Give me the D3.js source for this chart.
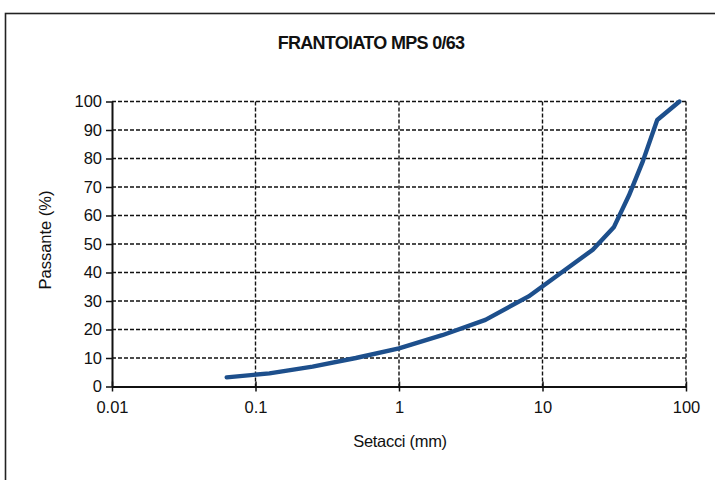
<!DOCTYPE html>
<html><head><meta charset="utf-8">
<script src="https://cdn.jsdelivr.net/npm/d3@7"></script>
<style>
html,body{margin:0;padding:0;background:#fff;}
svg{display:block;font-family:"Liberation Sans",Arial,sans-serif;}
</style></head>
<body>
<svg id="chart" width="715" height="480"></svg>
<script>
const title = "FRANTOIATO MPS 0/63";
const xLabel = "Setacci (mm)";
const yLabel = "Passante (%)";
const sieves = [0.063, 0.125, 0.25, 0.5, 1, 2, 4, 8, 16, 22.4, 31.5, 40, 50, 63, 90];
const passing = [3.2, 4.6, 7.0, 10.0, 13.4, 18.0, 23.4, 31.6, 42.6, 48, 56, 67, 79, 93.5, 100];
const xTicks = [0.01, 0.1, 1, 10, 100];
const xTickLabels = ["0.01", "0.1", "1", "10", "100"];
const yTicks = [0, 10, 20, 30, 40, 50, 60, 70, 80, 90, 100];

const svg = d3.select("#chart");
const W = 715, H = 480;
const m = {left: 112, right: 686, top: 101.5, bottom: 386.5};

svg.append("rect").attr("x", 0).attr("y", 0).attr("width", W).attr("height", H).attr("fill", "#fff");
// outer frame
svg.append("rect").attr("x", 5.5).attr("y", 13.5).attr("width", 760).attr("height", 520)
  .attr("fill", "none").attr("stroke", "#222").attr("stroke-width", 1.6);

const x = d3.scaleLog().domain([0.01, 100]).range([m.left, m.right]);
const y = d3.scaleLinear().domain([0, 100]).range([m.bottom, m.top]);

// horizontal dashed grid
svg.append("g").selectAll("line").data(yTicks.filter(d => d > 0)).join("line")
  .attr("x1", m.left).attr("x2", m.right)
  .attr("y1", d => y(d)).attr("y2", d => y(d))
  .attr("stroke", "#111").attr("stroke-width", 1.4).attr("stroke-dasharray", "4,2");
// vertical dashed grid
svg.append("g").selectAll("line").data(xTicks.filter(d => d > 0.01)).join("line")
  .attr("x1", d => x(d)).attr("x2", d => x(d))
  .attr("y1", m.top).attr("y2", m.bottom)
  .attr("stroke", "#111").attr("stroke-width", 1.4).attr("stroke-dasharray", "4,2");

// axes
const yAxis = d3.axisLeft(y).tickValues(yTicks).tickSize(6).tickSizeOuter(0).tickPadding(4);
const gy = svg.append("g").attr("transform", `translate(${m.left},0)`).call(yAxis);
gy.select(".domain").attr("stroke", "#111").attr("stroke-width", 2);
gy.selectAll(".tick line").attr("stroke", "#111").attr("stroke-width", 1.5);
gy.selectAll(".tick text").attr("font-size", 16.5).attr("fill", "#111")
  .attr("font-family", "'Liberation Sans',Arial,sans-serif");

const xAxis = d3.axisBottom(x).tickValues(xTicks).tickFormat((d, i) => xTickLabels[i])
  .tickSize(5).tickSizeOuter(0).tickPadding(10);
const gx = svg.append("g").attr("transform", `translate(0,${m.bottom})`).call(xAxis);
gx.select(".domain").attr("stroke", "#111").attr("stroke-width", 2);
gx.selectAll(".tick line").attr("stroke", "#111").attr("stroke-width", 1.5).attr("y1", -5);
gx.selectAll(".tick text").attr("font-size", 16.5).attr("fill", "#111")
  .attr("font-family", "'Liberation Sans',Arial,sans-serif");

// curve
const line = d3.line().x((d, i) => x(sieves[i])).y(d => y(d)).curve(d3.curveLinear);
svg.append("path").datum(passing).attr("d", line)
  .attr("fill", "none").attr("stroke", "#1d4f8c").attr("stroke-width", 4.4)
  .attr("stroke-linejoin", "round").attr("stroke-linecap", "round");

// title
svg.append("text").attr("x", 371).attr("y", 49).attr("text-anchor", "middle")
  .attr("font-size", 18).attr("font-weight", "bold").attr("letter-spacing", -0.7)
  .attr("fill", "#111").text(title);
// x label
svg.append("text").attr("x", 400).attr("y", 447).attr("text-anchor", "middle")
  .attr("font-size", 16.5).attr("letter-spacing", -0.3).attr("fill", "#111").text(xLabel);
// y label
svg.append("text").attr("transform", "translate(51,240) rotate(-90)").attr("text-anchor", "middle")
  .attr("font-size", 16.5).attr("fill", "#111").text(yLabel);
</script>
</body></html>
